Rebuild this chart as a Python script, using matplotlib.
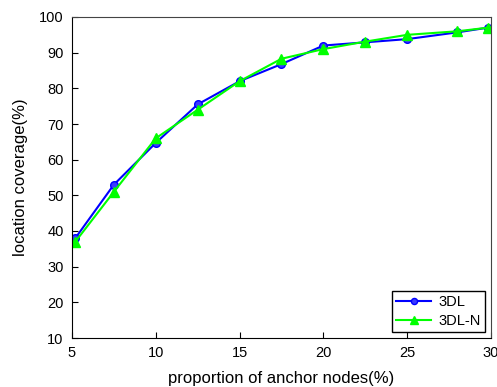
import matplotlib
matplotlib.use('Agg')
import matplotlib.pyplot as plt

plt.rcParams['font.family'] = ['Liberation Sans', 'DejaVu Sans']

x = [5.2, 7.5, 10, 12.5, 15, 17.5, 20, 22.5, 25, 28, 29.8]
dl = [38, 53, 64.7, 75.5, 82, 86.8, 92, 92.9, 93.8, 95.7, 97]
dln = [37, 51, 66, 74, 82, 88.3, 91, 93.1, 95, 96, 97]

fig = plt.figure(figsize=(4.97, 3.87), dpi=100)
ax = fig.add_axes([72/497, 49/387, 419/497, 321/387])

ax.plot(x, dl, color='#0000ff', marker='o', markersize=5.5, lw=1.5,
        markerfacecolor='#3a3aff', markeredgecolor='#0000ff', label='3DL')
ax.plot(x, dln, color='#00ff00', marker='^', markersize=6.5, lw=1.5,
        markerfacecolor='#00ff00', markeredgecolor='#00ff00', label='3DL-N')

ax.set_xlim(5, 30)
ax.set_ylim(10, 100)
ax.set_xticks([5, 10, 15, 20, 25, 30])
ax.set_yticks(range(10, 101, 10))
ax.tick_params(direction='in', labelsize=10.5, top=False, right=False, length=4, pad=6)
for s in ['top', 'right']:
    ax.spines[s].set_color('#444444')
ax.set_xlabel('proportion of anchor nodes(%)', fontsize=12, labelpad=8)
ax.set_ylabel('location coverage(%)', fontsize=12, labelpad=8)

leg = ax.legend(loc='lower right', fontsize=10.5, fancybox=False, edgecolor='black',
                framealpha=1, borderaxespad=0.4, handlelength=2.4,
                markerscale=0.8, labelspacing=0.3, borderpad=0.3, handletextpad=0.5)
leg.get_frame().set_linewidth(1)

fig.savefig('out.png', dpi=100)
